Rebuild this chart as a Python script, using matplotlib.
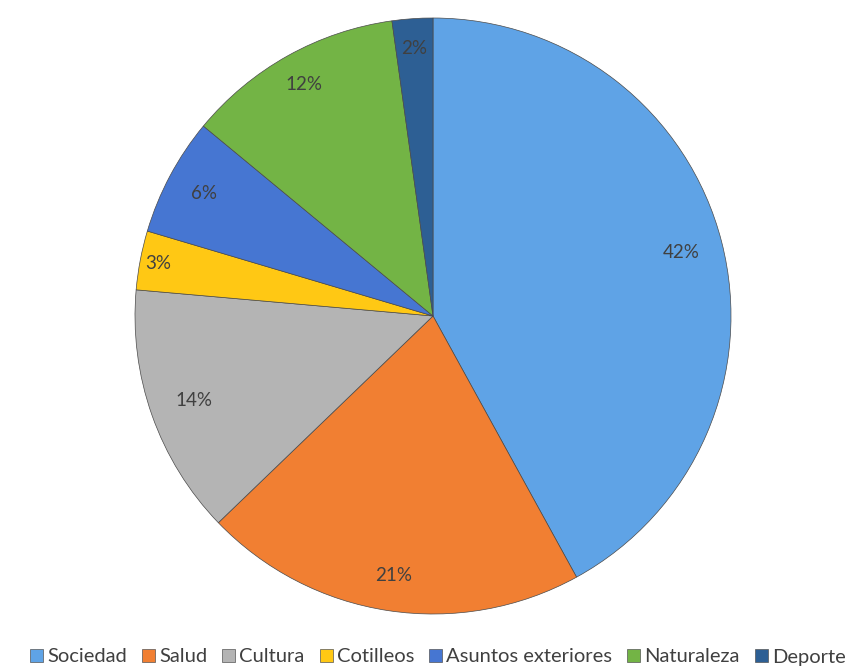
import matplotlib.pyplot as plt
import numpy as np

categorias = ['Sociedad', 'Salud', 'Cultura', 'Cotilleos',
              'Asuntos exteriores', 'Naturaleza', 'Deporte']
porcentajes = [42.0, 20.8, 13.6, 3.2, 6.4, 11.8, 2.2]
colores = ['#5fa3e6', '#f17f32', '#b4b4b4', '#ffc814',
           '#4676d2', '#73b445', '#2d5f94']
distancias = [0.86, 0.88, 0.85, 0.94, 0.87, 0.89, 0.90]

plt.rcParams['font.family'] = ['Lato', 'DejaVu Sans']

fig = plt.figure(figsize=(8.67, 6.68), dpi=100)
W, H = 867, 668
cx, cy, r = 433, 668 - 316, 298
ax = fig.add_axes([(cx - r) / W, (cy - r) / H, 2 * r / W, 2 * r / H])

wedges, _ = ax.pie(porcentajes, colors=colores, startangle=90,
                   counterclock=False,
                   wedgeprops=dict(edgecolor='#4a4a4a', linewidth=0.5))
ax.set_xlim(-1, 1)
ax.set_ylim(-1, 1)
ax.set_aspect('equal')

# etiquetas de porcentaje
for w, p, d in zip(wedges, porcentajes, distancias):
    ang = np.deg2rad((w.theta1 + w.theta2) / 2)
    ax.text(d * np.cos(ang), d * np.sin(ang), f'{round(p)}%',
            ha='center', va='center', fontsize=13.5, color='#404040')

handles = [plt.Rectangle((0, 0), 1, 1, facecolor=c, edgecolor='#555555',
                         linewidth=0.5) for c in colores]
fig.legend(handles, categorias, loc='center', bbox_to_anchor=(0.505, 1 - 657 / H),
           ncol=7, frameon=False, fontsize=14.5, handlelength=0.65,
           handleheight=0.65, handletextpad=0.2, columnspacing=0.75,
           labelcolor='#404040')

fig.savefig('out.png', dpi=100)
